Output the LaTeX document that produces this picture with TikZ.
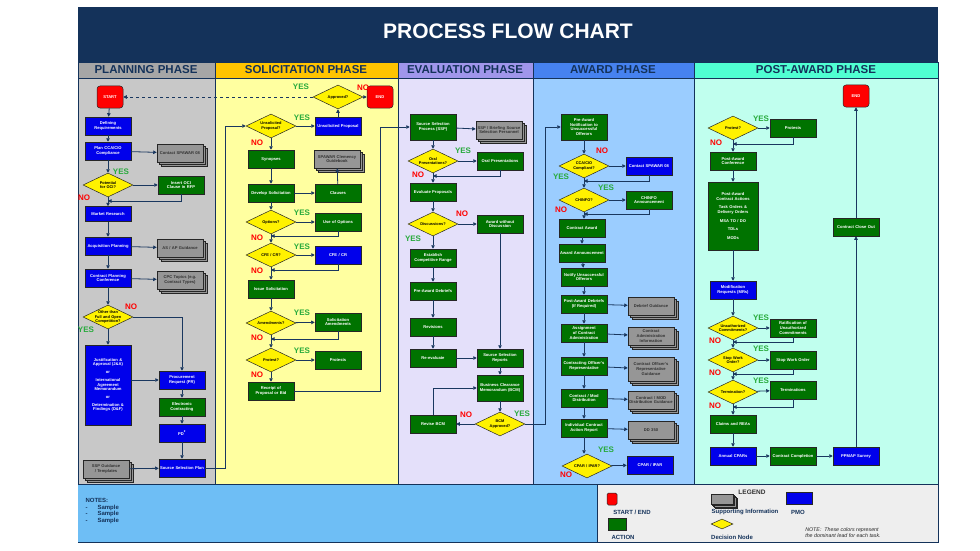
\documentclass[tikz,border=0pt]{standalone}
\usepackage{fontspec}
\setmainfont{Liberation Sans}
\usetikzlibrary{shapes.geometric,arrows.meta,shadows}
\hyphenpenalty=10000 \exhyphenpenalty=10000
\definecolor{navy}{RGB}{20,50,90}
\definecolor{lnc}{RGB}{25,55,95}
\definecolor{actg}{RGB}{0,115,0}
\definecolor{pmob}{RGB}{0,0,235}
\definecolor{docg}{RGB}{150,150,150}
\definecolor{yesg}{RGB}{40,170,60}
\definecolor{hplan}{RGB}{166,166,166}\definecolor{bplan}{RGB}{200,200,200}
\definecolor{hsol}{RGB}{255,196,0}\definecolor{bsol}{RGB}{255,255,160}
\definecolor{heva}{RGB}{160,150,235}\definecolor{beva}{RGB}{228,224,250}
\definecolor{hawd}{RGB}{70,130,240}\definecolor{bawd}{RGB}{155,205,255}
\definecolor{hpst}{RGB}{80,255,210}\definecolor{bpst}{RGB}{192,255,238}
\definecolor{notesb}{RGB}{110,190,245}
\definecolor{legg}{RGB}{238,238,238}
\tikzset{
 base/.style={draw=black!85,line width=0.5pt,font=\fontsize{4.1}{4.7}\selectfont\bfseries,text=white,align=center,inner sep=0.5pt,minimum width=46pt,minimum height=18pt,text width=44pt},
 act/.style={base,fill=actg},
 pmo/.style={base,fill=pmob},
 doc/.style={base,fill=docg,text=black!80,double copy shadow={shadow xshift=2pt,shadow yshift=-2pt,fill=docg,draw=black!85}},
 dec/.style={diamond,draw=black!85,line width=0.5pt,fill=yellow,inner sep=0pt,minimum width=50pt,minimum height=24pt},
 dtx/.style={font=\fontsize{3.9}{4.4}\selectfont\bfseries,text=black,align=center,inner sep=0pt,text width=30pt},
 term/.style={draw=black!85,line width=0.5pt,rounded corners=3pt,fill=red,font=\fontsize{4.1}{4.7}\selectfont\bfseries,text=white,minimum width=26pt,minimum height=22pt},
 ar/.style={draw=lnc,line width=0.8pt,-{Triangle[length=3.5pt,width=3.5pt]}},
 yes/.style={font=\fontsize{8}{8}\selectfont\bfseries,text=yesg},
 no/.style={font=\fontsize{8}{8}\selectfont\bfseries,text=red},
 phase/.style={font=\fontsize{11.5}{12}\selectfont\bfseries,text=navy},
}
\newcommand\dnode[3]{\node[dec] (#1) at (#2) {}; \node[dtx] (#1t) at (#1) {#3};}
\begin{document}
\begin{tikzpicture}[x=1pt,y=-1pt]
\useasboundingbox (0,0) rectangle (980,551);
\fill[white] (0,0) rectangle (980,551);
% frame
\fill[navy] (78,7) rectangle (938,58);
\node[font=\fontsize{21}{22}\selectfont\bfseries,text=white] (title) at (508,31) {PROCESS FLOW CHART};
\fill[navy] (78,58) rectangle (938,62);
\fill[hplan] (78,62) rectangle (215,78); \fill[bplan] (78,78) rectangle (215,484);
\fill[hsol] (215,62) rectangle (398,78); \fill[bsol] (215,78) rectangle (398,484);
\fill[heva] (398,62) rectangle (533,78); \fill[beva] (398,78) rectangle (533,484);
\fill[hawd] (533,62) rectangle (694,78); \fill[bawd] (533,78) rectangle (694,484);
\fill[hpst] (694,62) rectangle (938,78); \fill[bpst] (694,78) rectangle (938,484);
\foreach \xx in {215,398,533,694} \draw[navy,line width=0.6pt] (\xx,62) -- (\xx,484);
\draw[navy,line width=0.6pt] (78,78) -- (938,78);
\draw[navy,line width=0.8pt] (78,62) rectangle (938,542);
\node[phase] (ph1) at (146,70) {PLANNING PHASE};
\node[phase] (ph2) at (306,70) {SOLICITATION PHASE};
\node[phase] (ph3) at (465,70) {EVALUATION PHASE};
\node[phase] (ph4) at (613,70) {AWARD PHASE};
\node[phase] (ph5) at (816,70) {POST-AWARD PHASE};
% notes & legend
\fill[notesb] (78,484) rectangle (597,542);
\fill[legg] (597,484) rectangle (938,542);
\draw[navy,line width=0.8pt] (78,484) -- (938,484); \draw[navy,line width=0.6pt] (597,484) -- (597,542);
\node[font=\fontsize{6}{7.5}\selectfont\bfseries,text=navy,align=left,anchor=north west] (notes) at (82,495) {NOTES:\\[-1pt]-\hspace{10pt}Sample\\[-1pt]-\hspace{10pt}Sample\\[-1pt]-\hspace{10pt}Sample};
\node[font=\fontsize{6.5}{7}\selectfont\bfseries,text=black!80] (leg) at (752,492) {LEGEND};
\node[term,minimum width=10pt,minimum height=12pt,rounded corners=1.5pt] (lg1) at (612,499) {};
\node[font=\fontsize{6}{7}\selectfont\bfseries,text=navy] (lg1t) at (632,512) {START / END};
\node[act,minimum width=18pt,minimum height=12pt,text width=16pt] (lg2) at (617,524) {};
\node[font=\fontsize{6}{7}\selectfont\bfseries,text=navy] (lg2t) at (623,537) {ACTION};
\node[doc,minimum width=22pt,minimum height=10pt,text width=20pt,double copy shadow={shadow xshift=1.5pt,shadow yshift=-1.5pt,fill=docg,draw=black!85}] (lg3) at (722,499) {};
\node[font=\fontsize{6}{7}\selectfont\bfseries,text=navy] (lg3t) at (745,512) {Supporting Information};
\node[dec,minimum width=22pt,minimum height=10pt] (lg4) at (722,524) {};
\node[font=\fontsize{6}{7}\selectfont\bfseries,text=navy] (lg4t) at (732,537) {Decision Node};
\node[pmo,minimum width=26pt,minimum height=12pt,text width=24pt] (lg5) at (799,498) {};
\node[font=\fontsize{6}{7}\selectfont\bfseries,text=navy] (lg5t) at (798,512) {PMO};
\node[font=\fontsize{5.3}{6}\selectfont\itshape,text=black!85,align=left] (lgn) at (843,533) {NOTE:\; These colors represent\\the dominant lead for each task.};
% ===== PLANNING
\node[term] (start) at (110,97) {START};
\node[pmo] (defreq) at (108,126) {Defining Requirements};
\node[pmo] (plancca) at (108,151) {Plan CCA/CIO Compliance};
\node[doc] (cspawar) at (180,153) {Contact SPAWAR 08};
\dnode{oci}{108,185}{Potential for OCI?}
\node[act] (ociclause) at (181,185) {Insert OCI Clause in RFP};
\node[pmo,minimum height=15pt] (market) at (108,214) {Market Research};
\node[pmo] (acq) at (108,246) {Acquisition Planning};
\node[doc] (asap) at (180,248) {AS / AP Guidance};
\node[pmo] (cpc) at (108,278) {Contract Planning Conference};
\node[doc] (cpcdoc) at (180,280) {CPC Topics (e.g. Contract Types)};
\dnode{other}{108,317}{Other than Full and Open Competition?}
\node[pmo,minimum height=80pt] (ja) at (108,385) {Justification \& Approval (J\&A)\\[3pt]or\\[3pt]International Agreement Memorandum\\[3pt]or\\[3pt]Determination \& Findings (D\&F)};
\node[pmo] (pr) at (182,380) {Procurement Request (PR)};
\node[act] (ec) at (182,407) {Electronic Contracting};
\node[pmo] (pd) at (182,433) {PD\textsuperscript{2}};
\node[doc] (sspdoc) at (106,469) {SSP Guidance / Templates};
\node[pmo] (ssplan) at (182,468) {Source Selection Plan};
\draw[ar] (start) -- (defreq);
\draw[ar] (defreq) -- (plancca);
\draw[ar] (plancca) -- (cspawar);
\draw[ar] (plancca) -- (oci);
\draw[ar] (oci) -- (ociclause);
\draw[ar] (oci) -- (market);
\coordinate (j1) at (108,201);
\draw[ar] (ociclause.south) |- (j1);
\draw[ar] (market) -- (acq);
\draw[ar] (acq) -- (asap);
\draw[ar] (acq) -- (cpc);
\draw[ar] (cpc) -- (cpcdoc);
\draw[ar] (cpc) -- (other);
\draw[ar] (other.east) -| (pr.north);
\draw[ar] (other) -- (ja);
\draw[ar] (ja.east |- pr.west) -- (pr.west);
\draw[ar] (pr) -- (ec);
\draw[ar] (ec) -- (pd);
\draw[ar] (pd) -- (ssplan);
\draw[ar] (sspdoc) -- (ssplan);
\node[yes] (y1) at (121,172) {YES};
\node[no] (n1) at (84,198) {NO};
\node[no] (n2) at (131,307) {NO};
\node[yes] (y2) at (86,330) {YES};
% ===== SOLICITATION
\dnode{approved}{338,97}{Approved?}
\node[term] (end1) at (380,97) {END};
\dnode{unsoldec}{271,126}{Unsolicited Proposal?}
\node[pmo] (unsolprop) at (338,126) {Unsolicited Proposal};
\node[act] (synop) at (271,159) {Synopses};
\node[doc] (clemency) at (337,159) {SPAWAR Clemency Guidebook};
\node[act] (develop) at (271,193) {Develop Solicitation};
\node[act] (clauses) at (338,193) {Clauses};
\dnode{options}{271,222}{Options?}
\node[act] (useopt) at (338,222) {Use of Options};
\dnode{cfe}{271,255}{CFE / CR?}
\node[pmo] (cfebox) at (338,255) {CFE / CR};
\node[act] (issue) at (271,289) {Issue Solicitation};
\dnode{amend}{271,323}{Amendments?}
\node[act] (solamend) at (338,322) {Solicitation Amendments};
\dnode{protest}{271,360}{Protest?}
\node[act] (protests) at (338,360) {Protests};
\node[act] (receipt) at (271,391) {Receipt of Proposal or Bid};
\coordinate (c1) at (225,468);
\draw[ar] (ssplan.east) -- (c1) |- (unsoldec.west);
\draw[ar] (unsoldec) -- (unsolprop);
\draw[ar] (unsolprop) -- (approved);
\draw[ar] (approved) -- (end1);
\draw[ar,dashed] (approved) -- (start);
\draw[ar] (unsoldec) -- (synop);
\draw[ar] (synop) -- (develop);
\draw[ar] (develop) -- (clauses);
\draw[ar] (clauses) -- (clemency);
\draw[ar] (develop) -- (options);
\draw[ar] (options) -- (useopt);
\coordinate (j2) at (271,236);
\draw[ar] (useopt.south) |- (j2);
\draw[ar] (options) -- (cfe);
\draw[ar] (cfe) -- (cfebox);
\coordinate (j3) at (271,270);
\draw[ar] (cfebox.south) |- (j3);
\draw[ar] (cfe) -- (issue);
\draw[ar] (issue) -- (amend);
\draw[ar] (amend) -- (solamend);
\coordinate (j4) at (271,339);
\draw[ar] (solamend.south) |- (j4);
\draw[ar] (amend) -- (protest);
\draw[ar] (protest) -- (protests);
\draw[ar] (protest) -- (receipt);
\node[yes] (y3) at (301,87) {YES};
\node[no] (n3) at (363,88) {NO};
\node[yes] (y4) at (302,118) {YES};
\node[no] (n4) at (257,143) {NO};
\node[yes] (y5) at (302,213) {YES};
\node[no] (n5) at (257,238) {NO};
\node[yes] (y6) at (302,247) {YES};
\node[no] (n6) at (257,271) {NO};
\node[yes] (y7) at (302,313) {YES};
\node[no] (n7) at (257,338) {NO};
\node[yes] (y8) at (302,351) {YES};
\node[no] (n8) at (257,375) {NO};
% ===== EVALUATION
\node[act,minimum height=26pt] (ssp) at (433,127) {Source Selection Process (SSP)};
\node[doc] (sspb) at (499,130) {SSP / Briefing Source Selection Personnel};
\dnode{oral}{433,161}{Oral Presentations?}
\node[act] (oralbox) at (500,161) {Oral Presentations};
\node[act] (evalp) at (433,192) {Evaluate Proposals};
\dnode{disc}{433,224}{Discussions?}
\node[act] (awd) at (500,224) {Award without Discussion};
\node[act] (ecr) at (433,258) {Establish Competitive Range};
\node[act] (pad) at (433,291) {Pre-Award Debriefs};
\node[act] (rev) at (433,327) {Revisions};
\node[act] (reeval) at (433,358) {Re-evaluate};
\node[act] (srep) at (500,358) {Source Selection Reports};
\node[act,minimum height=26pt] (bcm) at (500,388) {Business Clearance Memorandum (BCM)};
\dnode{bcmdec}{500,424}{BCM Approved?}
\node[act] (revise) at (433,424) {Revise BCM};
\coordinate (c2) at (380,391);
\coordinate (c3) at (380,127);
\draw[ar] (receipt.east) -- (c2) -- (c3) -- (ssp.west);
\draw[ar] (ssp) -- (sspb);
\draw[ar] (ssp) -- (oral);
\draw[ar] (oral) -- (oralbox);
\coordinate (j5) at (433,176);
\draw[ar] (oralbox.south) |- (j5);
\draw[ar] (oral) -- (evalp);
\draw[ar] (evalp) -- (disc);
\draw[ar] (disc) -- (awd);
\draw[ar] (awd) -- (srep);
\draw[ar] (disc) -- (ecr);
\draw[ar] (ecr) -- (pad);
\draw[ar] (pad) -- (rev);
\draw[ar] (rev) -- (reeval);
\draw[ar] (reeval) -- (srep);
\draw[ar] (srep) -- (bcm);
\draw[ar] (bcm) -- (bcmdec);
\draw[ar] (bcmdec) -- (revise);
\draw[ar] (revise.north) |- (bcm.west);
\node[yes] (y9) at (463,151) {YES};
\node[no] (n9) at (418,175) {NO};
\node[no] (n10) at (462,214) {NO};
\node[yes] (y10) at (413,239) {YES};
\node[no] (n11) at (466,415) {NO};
\node[yes] (y11) at (522,414) {YES};
% ===== AWARD
\node[act,minimum height=26pt] (pan) at (584,127) {Pre-Award Notification to Unsuccessful Offerors};
\dnode{ccadec}{584,166}{CCA/CIO Compliant?}
\node[pmo] (cspawar2) at (649,166) {Contact SPAWAR 08};
\dnode{chinfo}{584,200}{CHINFO?}
\node[act] (chinfobox) at (649,200) {CHINFO Announcement};
\node[act] (caward) at (582,228) {Contract Award};
\node[act] (aann) at (582,253) {Award Announcement};
\node[act] (notify) at (584,277) {Notify Unsuccessful Offerors};
\node[act] (pad2) at (584,304) {Post-Award Debriefs (If Required)};
\node[doc] (debrief) at (651,306) {Debrief Guidance};
\node[act] (assign) at (584,333) {Assignment of Contract Administration};
\node[doc] (cadmin) at (651,336) {Contract Administration Information};
\node[act] (cor) at (584,366) {Contracting Officer's Representative};
\node[doc,minimum height=24pt] (corg) at (651,369) {Contract Officer's Representative Guidance};
\node[act] (dist) at (584,398) {Contract / Mod Distribution};
\node[doc] (distg) at (651,400) {Contract / MOD Distribution Guidance};
\node[act] (icar) at (584,428) {Individual Contract Action Report};
\node[doc] (dd) at (651,430) {DD 350};
\dnode{cpardec}{587,466}{CPAR / IPAR?}
\node[pmo] (cparbox) at (650,465) {CPAR / IPAR};
\coordinate (c4) at (545,424);
\coordinate (c5) at (545,127);
\draw[ar] (bcmdec.east) -- (c4) -- (c5) -- (pan.west);
\draw[ar] (pan) -- (ccadec);
\draw[ar] (ccadec) -- (cspawar2);
\coordinate (j6) at (584,181);
\draw[ar] (cspawar2.south) |- (j6);
\draw[ar] (ccadec) -- (chinfo);
\draw[ar] (chinfo) -- (chinfobox);
\coordinate (j7) at (584,214);
\draw[ar] (chinfobox.south) |- (j7);
\draw[ar] (chinfo.south) -- (caward.north -| chinfo.south);
\draw[ar] (caward) -- (aann);
\draw[ar] (aann) -- (notify);
\draw[ar] (notify) -- (pad2);
\draw[ar] (pad2) -- (debrief);
\draw[ar] (pad2) -- (assign);
\draw[ar] (assign) -- (cadmin);
\draw[ar] (assign) -- (cor);
\draw[ar] (cor) -- (corg);
\draw[ar] (cor) -- (dist);
\draw[ar] (dist) -- (distg);
\draw[ar] (dist) -- (icar);
\draw[ar] (icar) -- (dd);
\draw[ar] (icar.south) -- (cpardec.north -| icar.south);
\draw[ar] (cpardec) -- (cparbox);
\node[no] (n12) at (602,151) {NO};
\node[yes] (y12) at (561,177) {YES};
\node[yes] (y13) at (606,188) {YES};
\node[no] (n13) at (561,210) {NO};
\node[yes] (y14) at (606,450) {YES};
\node[no] (n14) at (566,475) {NO};
% ===== POST-AWARD
\dnode{pprot}{733,128}{Protest?}
\node[act] (pprots) at (793,128) {Protests};
\node[act] (pac) at (733,161) {Post-Award Conference};
\node[act,minimum width=50pt,text width=48pt,minimum height=68pt] (pca) at (733,216) {Post-Award Contract Actions\\[4pt]Task Orders \& Delivery Orders\\[4pt]MSA TO / DO\\[4pt]TDLs\\[4pt]MODs};
\node[pmo] (mr) at (733,290) {Modification Requests (MRs)};
\dnode{unauth}{733,328}{Unauthorized Commitments?}
\node[act] (ratif) at (793,328) {Ratification of Unauthorized Commitments};
\dnode{swo}{733,360}{Stop Work Order?}
\node[act] (swobox) at (793,360) {Stop Work Order};
\dnode{term}{733,392}{Termination?}
\node[act] (terms) at (793,390) {Terminations};
\node[act] (claims) at (733,424) {Claims and REAs};
\node[pmo] (acpar) at (733,456) {Annual CPARs};
\node[act] (ccomp) at (793,456) {Contract Completion};
\node[pmo] (ppmap) at (856,456) {PPMAP Survey};
\node[act] (closeout) at (856,227) {Contract Close Out};
\node[term] (end2) at (856,96) {END};
\draw[ar] (pprot) -- (pprots);
\coordinate (j8) at (733,144);
\draw[ar] (pprots.south) |- (j8);
\draw[ar] (pprot) -- (pac);
\draw[ar] (pac) -- (pca);
\draw[ar] (pca) -- (mr);
\draw[ar] (mr) -- (unauth);
\draw[ar] (unauth) -- (ratif);
\coordinate (j9) at (733,342);
\draw[ar] (ratif.south) |- (j9);
\draw[ar] (unauth) -- (swo);
\draw[ar] (swo) -- (swobox);
\coordinate (j10) at (733,374);
\draw[ar] (swobox.south) |- (j10);
\draw[ar] (swo) -- (term);
\draw[ar] (term) -- (terms);
\coordinate (j11) at (733,407);
\draw[ar] (terms.south) |- (j11);
\draw[ar] (term) -- (claims);
\draw[ar] (claims) -- (acpar);
\draw[ar] (acpar) -- (ccomp);
\draw[ar] (ccomp) -- (ppmap);
\draw[ar] (ppmap) -- (closeout);
\draw[ar] (closeout) -- (end2);
\node[yes] (y15) at (761,119) {YES};
\node[no] (n15) at (716,143) {NO};
\node[yes] (y16) at (761,318) {YES};
\node[no] (n16) at (715,341) {NO};
\node[yes] (y17) at (761,349) {YES};
\node[no] (n17) at (715,373) {NO};
\node[yes] (y18) at (761,381) {YES};
\node[no] (n18) at (715,406) {NO};
\end{tikzpicture}
\end{document}
